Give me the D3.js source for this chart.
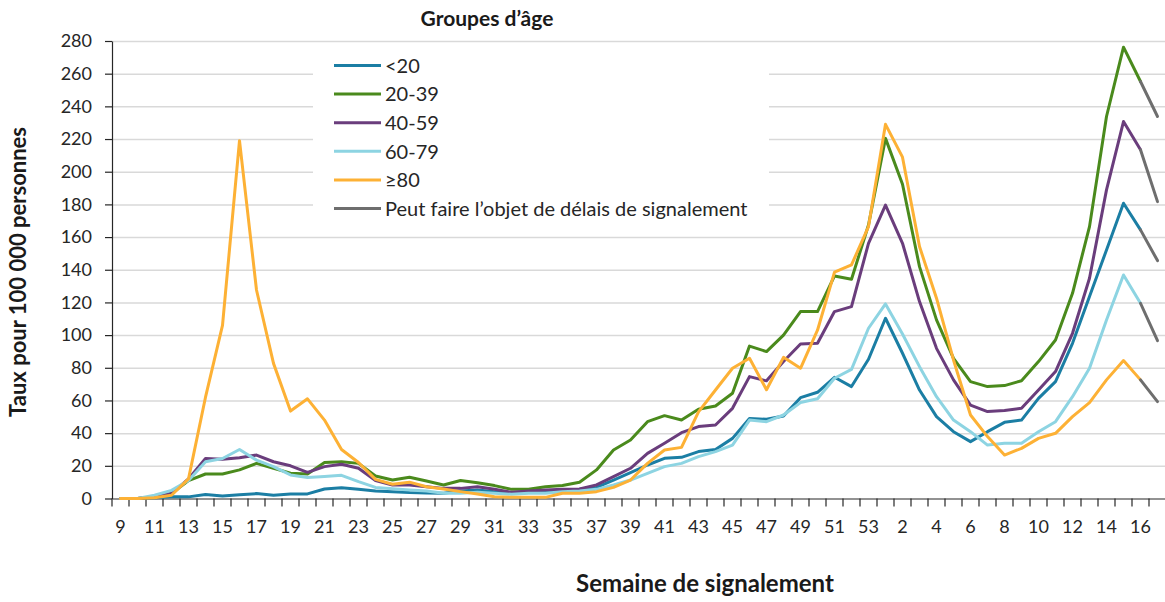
<!DOCTYPE html>
<html>
<head>
<meta charset="utf-8">
<script src="https://cdn.jsdelivr.net/npm/d3@7"></script>
<style>
  body { margin: 0; background: #fff; }
  svg { display: block; font-family: Lato, "Open Sans", sans-serif; }
  .tick text { fill: #262626; }
</style>
</head>
<body>
<div id="chart"></div>
<script>
// semaines de signalement (53 -> 1 = changement d'année)
const weeks = [9,10,11,12,13,14,15,16,17,18,19,20,21,22,23,24,25,26,27,28,29,30,31,32,33,34,35,36,37,38,39,40,
  41,42,43,44,45,46,47,48,49,50,51,52,53,1,2,3,4,5,6,7,8,9,10,11,12,13,14,15,16,17];

const under20 = [0,0,0.5,1,1,2.5,1.5,2.3,3,2,2.8,2.8,5.8,6.6,5.6,4.6,4.2,3.6,3.4,3.2,4.6,5.2,4.2,3.2,3.6,4.2,5.2,5.6,6.8,11.3,15.8,20.5,
  24.6,25.2,28.7,30,36.8,49,48.5,50.5,61.7,65,74.2,68.5,85.2,110.3,88.9,66.4,50.1,40.9,34.8,40.9,46.6,48,61.3,71.5,95,123.6,152.1,180.7,164.4,145.6];
const age20_39 = [0,0,1,3,11,15,15,17.5,21.5,18.5,15.5,15,22,22.5,21.5,13.8,11.3,13,10.7,8.3,11,9.7,7.9,5.6,5.6,7.2,7.9,9.9,17.5,29.7,35.8,47,
  50.7,48,54.6,56.6,64.4,93.3,89.9,100,114.4,114.4,136.2,134.2,167.4,220.4,192.3,141.9,109.3,85.8,71.5,68.5,69.1,72.1,83.8,97,125.6,166.4,233.8,276.2,255.2,233.8];
const age40_59 = [0,0,1,3,12,24.5,24,25,26.6,22.5,20,16,19.5,21,18.5,11,8.3,8.3,7.2,6.2,6.2,7.2,5.6,3.8,4.6,5.2,5.6,5.8,8.3,13.4,18.5,27.6,
  33.8,40.3,44,45,55.2,74.6,72,83.8,94.6,95,114.4,117.4,156.2,179.6,156.2,120.5,91.9,72.6,57.2,53.2,53.8,55.2,66.4,77.7,101.1,134.8,188.9,230.7,213.4,181.7];
const age60_79 = [0,0,2,5,11,22.5,24.5,30,23.5,19.5,14.4,12.8,13.4,14.2,10.3,6.8,6,5.2,4.6,3.2,3.2,3.8,3.2,2.6,3.2,3.2,4.2,4.6,5.6,8.3,11.3,15.4,
  19.5,21.5,25.6,28.7,32.7,48,47,51.1,58.7,61,73.6,79,104.2,119.1,100.7,80.7,62.3,48,40.9,32.7,33.8,33.8,40.9,47,62.3,79.7,109.3,136.8,119.5,96.6];
const age80plus = [0,0,0.5,2,12,62,106,219,127.6,82.7,53.5,61,48,30,22,11.7,8.7,10,7.2,5.8,4.2,2.8,1.1,0.7,0.7,0.7,3.2,3.2,4.2,6.8,11.3,21.5,
  29.7,31.3,53,66.4,79.7,85.8,66.6,86.4,79.7,103,138.5,143,166.4,229,208.9,154.2,122.6,84.8,51.1,37.9,26.6,30.7,36.8,39.9,50.1,58.7,72.6,84.4,72.6,59.3];

const seriesNames = ["<20", "20-39", "40-59", "60-79", "\u226580"];
const seriesColors = ["#1b7ea4", "#4a8a1c", "#6a3d7c", "#8dd4e2", "#fdb135"];
const delayLabel = "Peut faire l\u2019objet de d\u00e9lais de signalement";
const delayColor = "#6e6e6e";
const yTicks = [0,20,40,60,80,100,120,140,160,180,200,220,240,260,280];
const lastReliable = 60; // les points après cet indice sont tracés en gris

const allSeries = [under20, age20_39, age40_59, age60_79, age80plus];

const W = 1165, H = 602;
const margin = { left: 112, right: -1, top: 41, bottom: 103.5 };
const width = W - margin.left - margin.right;
const height = H - margin.top - margin.bottom;

const svg = d3.select("#chart").append("svg")
  .attr("width", W)
  .attr("height", H);

const x = d3.scaleBand()
  .domain(weeks.map((d, i) => i))
  .range([0, width]);

const y = d3.scaleLinear()
  .domain([0, 280])
  .range([height, 0]);

const g = svg.append("g")
  .attr("transform", `translate(${margin.left},${margin.top})`);

// grille
g.append("g")
  .attr("class", "grid")
  .call(d3.axisLeft(y).tickValues(yTicks.slice(1)).tickSize(-width).tickFormat(""))
  .call(s => s.select(".domain").remove())
  .call(s => s.selectAll("line").attr("stroke", "#d9d9d9").attr("stroke-width", 1.5));

// fond de la légende (cache la grille)
g.append("rect")
  .attr("x", 313 - margin.left)
  .attr("y", 49 - margin.top)
  .attr("width", 456)
  .attr("height", 178)
  .attr("fill", "#fff");

// axe Y
g.append("g")
  .call(d3.axisLeft(y).tickValues(yTicks).tickSizeInner(7).tickSizeOuter(0).tickPadding(13))
  .call(s => s.select(".domain").attr("stroke", "#262626").attr("stroke-width", 1.2))
  .call(s => s.selectAll(".tick line").attr("stroke", "#262626").attr("stroke-width", 1.2))
  .call(s => s.selectAll("text").style("font-size", "18px").style("font-family", "Lato"));

// axe X : étiquettes une semaine sur deux
g.append("g")
  .attr("transform", `translate(0,${height})`)
  .call(d3.axisBottom(x)
    .tickValues(x.domain().filter(i => i % 2 === 0))
    .tickFormat(i => weeks[i])
    .tickSize(0)
    .tickPadding(22))
  .call(s => s.select(".domain").attr("stroke", "#262626").attr("stroke-width", 1.2))
  .call(s => s.selectAll("text").style("font-size", "18px").style("font-family", "Lato"));

// graduations entre les catégories
g.append("g")
  .attr("transform", `translate(0,${height})`)
  .selectAll("line")
  .data(d3.range(weeks.length + 1))
  .enter().append("line")
    .attr("x1", i => i < weeks.length ? x(i) : x(i - 1) + x.bandwidth())
    .attr("x2", i => i < weeks.length ? x(i) : x(i - 1) + x.bandwidth())
    .attr("y1", 0)
    .attr("y2", 8)
    .attr("stroke", "#262626")
    .attr("stroke-width", 1.2);

const linea = d3.line()
  .x(d => x(d.i) + x.bandwidth() / 2)
  .y(d => y(d.v))
  .curve(d3.curveLinear);

const lines = g.append("g").attr("class", "lines");

allSeries.forEach((vals, k) => {
  const pts = vals.map((v, i) => ({ i, v }));
  lines.append("path")
    .datum(pts.slice(0, lastReliable + 1))
    .attr("fill", "none")
    .attr("stroke", seriesColors[k])
    .attr("stroke-width", 3)
    .attr("stroke-linejoin", "round")
    .attr("stroke-linecap", "round")
    .attr("d", linea);
  lines.append("path")
    .datum(pts.slice(lastReliable))
    .attr("fill", "none")
    .attr("stroke", delayColor)
    .attr("stroke-width", 3)
    .attr("stroke-linecap", "round")
    .attr("d", linea);
});

// légende
const legend = svg.append("g").attr("class", "legend");

legend.append("text")
  .attr("x", 487)
  .attr("y", 26)
  .attr("text-anchor", "middle")
  .style("font-size", "21px")
  .style("font-weight", "bold")
  .style("fill", "#1a1a1a")
  .text("Groupes d\u2019\u00e2ge");

const legendItems = seriesNames.map((n, k) => ({ name: n, color: seriesColors[k] }))
  .concat([{ name: delayLabel, color: delayColor }]);

legend.selectAll("line")
  .data(legendItems)
  .enter().append("line")
    .attr("x1", 334)
    .attr("x2", 381)
    .attr("y1", (d, i) => 65.5 + i * 28.6)
    .attr("y2", (d, i) => 65.5 + i * 28.6)
    .attr("stroke", d => d.color)
    .attr("stroke-width", 3);

legend.selectAll("text.item")
  .data(legendItems)
  .enter().append("text")
    .attr("class", "item")
    .attr("x", 385)
    .attr("y", (d, i) => 65.5 + i * 28.6)
    .attr("dy", "0.36em")
    .style("font-size", "20px")
    .style("fill", "#262626")
    .text(d => d.name);

// titres des axes
svg.append("text")
  .attr("x", 705)
  .attr("y", 592)
  .attr("text-anchor", "middle")
  .style("font-size", "24px")
  .style("font-weight", "bold")
  .style("fill", "#1a1a1a")
  .text("Semaine de signalement");

svg.append("text")
  .attr("transform", "translate(18,272) rotate(-90)")
  .attr("text-anchor", "middle")
  .attr("dy", "0.35em")
  .style("font-size", "22px")
  .style("font-weight", "bold")
  .style("fill", "#1a1a1a")
  .text("Taux pour 100 000 personnes");
</script>
</body>
</html>
